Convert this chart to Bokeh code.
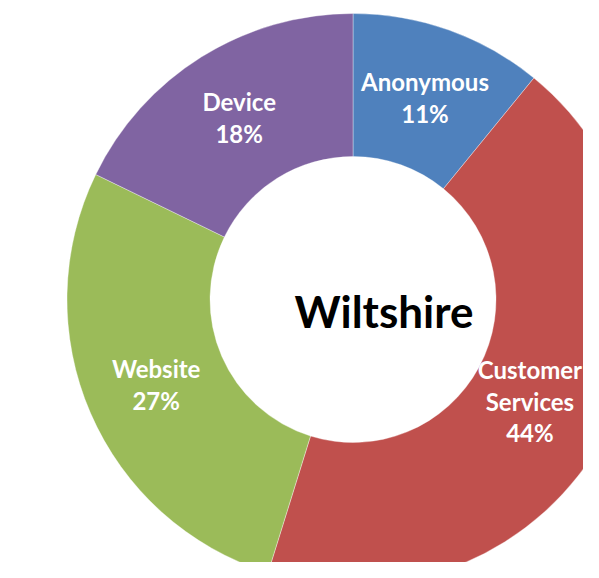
import math
from bokeh.plotting import figure
from bokeh.models import ColumnDataSource, Range1d
from bokeh.core.properties import value
from bokeh.embed import file_html
from bokeh.resources import INLINE

# ---- data ----
categories = ["Anonymous", "Customer Services", "Website", "Device"]
shares = [10.9, 43.9, 27.4, 17.8]
colors = ["#4F81BD", "#C0504D", "#9BBB59", "#8064A2"]
center_title = "Wiltshire"

# ---- geometry (data units == screen pixels) ----
R_IN = 143
R_OUT = 286
total = sum(shares)
starts, ends, mids = [], [], []
cum = 0.0
for v in shares:
    a0 = math.pi / 2 - 2 * math.pi * cum / total
    cum += v
    a1 = math.pi / 2 - 2 * math.pi * cum / total
    starts.append(a0)
    ends.append(a1)
    mids.append((a0 + a1) / 2)

r_lab = (R_IN + R_OUT) / 2
lab_x = [r_lab * math.cos(m) for m in mids]
lab_y = [r_lab * math.sin(m) for m in mids]
lab_txt = [c.replace(" ", "\n") + "\n" + f"{round(v / total * 100)}%" for c, v in zip(categories, shares)]
# small nudge so the right-hand label stays inside the canvas
lab_dx = [0, -12, 0, 0]

src = ColumnDataSource(dict(start=starts, end=ends, color=colors,
                            lx=lab_x, ly=lab_y, txt=lab_txt, dx=lab_dx))

W, H = 583, 562
CX, CY = 352.5, 299
p = figure(width=W, height=H, output_backend="svg", toolbar_location=None,
           x_range=Range1d(-CX, W - CX), y_range=Range1d(CY - H, CY),
           min_border=0)
p.axis.visible = False
p.grid.visible = False
p.outline_line_color = None
p.background_fill_color = "white"
p.border_fill_color = "white"

p.annular_wedge(x=0, y=0, inner_radius=R_IN, outer_radius=R_OUT,
                start_angle="start", end_angle="end", direction="clock",
                fill_color="color", line_color="white", line_width=0.6,
                line_alpha=0.6, source=src)

p.text(x="lx", y="ly", text="txt", source=src, x_offset="dx", text_color="white",
       text_font=value("Lato"), text_font_style="bold", text_font_size="24px",
       text_align="center", text_baseline="middle", text_line_height=1.1)

p.text(x=[31], y=[-11], text=[center_title], text_color="black",
       text_font=value("Lato"), text_font_style="bold", text_font_size="44px",
       text_align="center", text_baseline="middle")

open("out.html", "w").write(file_html(p, INLINE))
